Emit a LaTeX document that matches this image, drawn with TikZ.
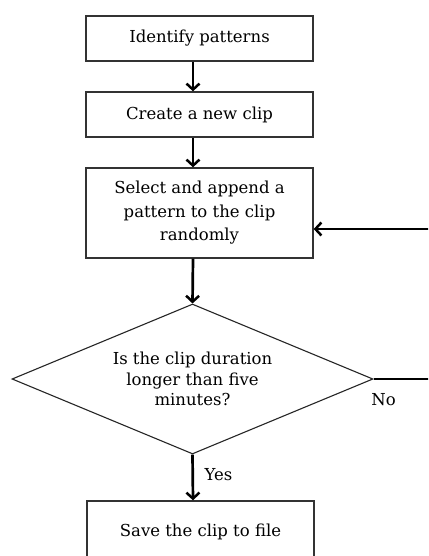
\documentclass[tikz,border=0pt]{standalone}
\usepackage{fontspec}
\setmainfont{DejaVu Serif}
\usetikzlibrary{arrows.meta,shapes.geometric}
\begin{document}
\begin{tikzpicture}[x=1pt,y=1pt,
  font=\fontsize{16.5}{23.5}\selectfont,
  stepbox/.style={draw=black!80,line width=1.4pt,rectangle,minimum width=227pt,inner sep=0pt,align=center,fill=white},
  decision/.style={draw=black!85,line width=1.1pt,diamond,shape aspect=2.4,minimum width=361pt,minimum height=150pt,inner sep=0pt,align=center},
  flow/.style={line width=2.7pt,-{Straight Barb[length=6pt,width=13pt,line width=2.5pt]}},
  plain/.style={line width=2.7pt},
  lbl/.style={inner sep=0pt}]
\useasboundingbox (0,0) rectangle (428,-556);
\clip (0,0) rectangle (428,-556);
\fill[white] (0,0) rectangle (428,-556);
\coordinate (spine) at (193,0);

\node[stepbox,minimum height=45pt] (b1) at (199.5,-38.5) {Identify patterns};
\node[stepbox,minimum height=45pt] (b2) at (199.5,-114.5) {Create a new clip};
\node[stepbox,minimum height=90pt] (b3) at (199.5,-213)
  {Select and append a\\pattern to the clip\\randomly};
\node[decision,font=\fontsize{16.5}{20.5}\selectfont] (d) at (192.5,-379)
  {Is the clip duration\\longer than five\\minutes?};
\node[stepbox,minimum height=62pt] (b4) at (200.5,-532) {Save the clip to file};

\draw[flow] (b1.south -| spine) -- (b2.north -| spine);
\draw[flow] (b2.south -| spine) -- (b3.north -| spine);
\draw[flow] (b3.south -| spine) -- (d.north);
\draw[flow] (d.south) -- (b4.north -| spine);
\node[lbl] (yes) at (218.5,-475) {Yes};

\coordinate (noEnd) at (440,-379);
\draw[plain] (d.east) -- (noEnd);
\node[lbl] (no) at (383.5,-400) {No};

\coordinate (backStart) at (440,-229);
\draw[flow] (backStart) -- (backStart -| b3.east);
\end{tikzpicture}
\end{document}
